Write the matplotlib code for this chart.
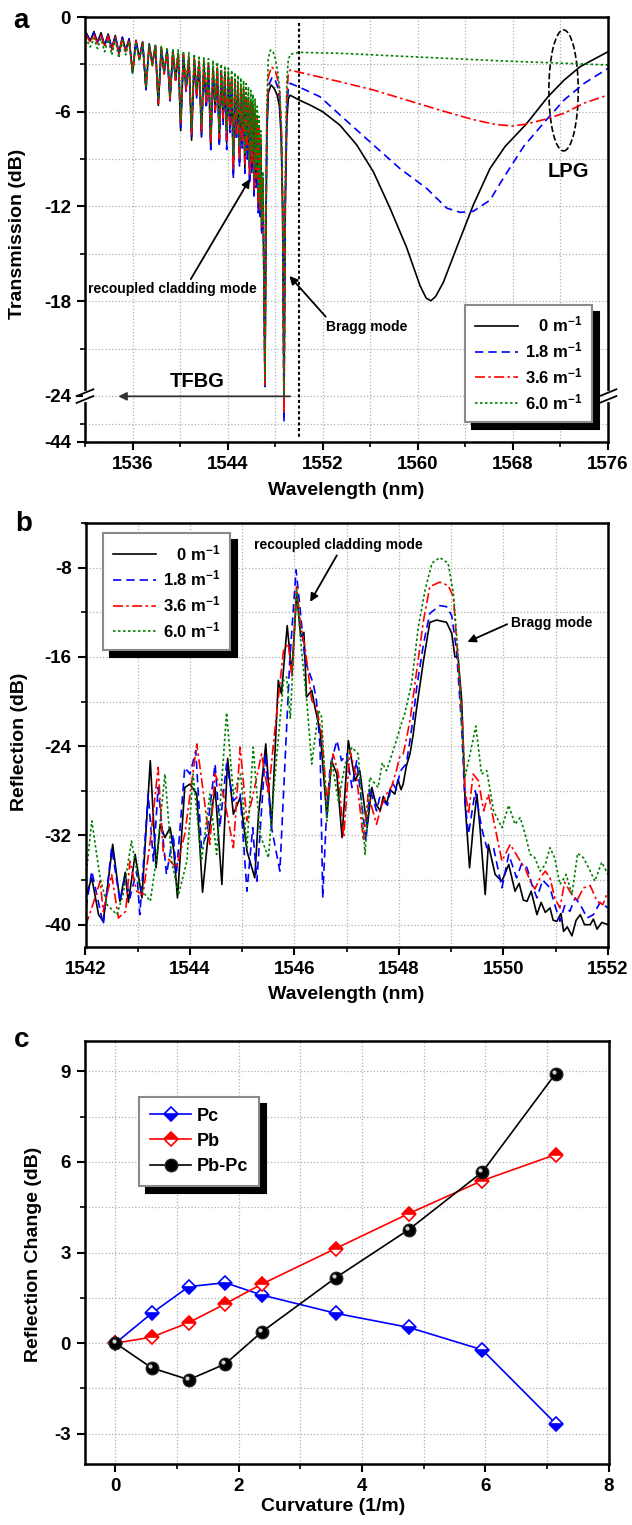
import numpy as np
import matplotlib
matplotlib.use('Agg')
import matplotlib.pyplot as plt
from matplotlib.patches import Ellipse
from matplotlib.ticker import MultipleLocator, FixedLocator
from matplotlib.transforms import offset_copy

plt.rcParams['font.family'] = ['Liberation Sans', 'DejaVu Sans']
plt.rcParams['font.weight'] = 'bold'
plt.rcParams['axes.labelweight'] = 'bold'
plt.rcParams['axes.unicode_minus'] = False
plt.rcParams['mathtext.fontset'] = 'custom'
plt.rcParams['mathtext.rm'] = 'Liberation Sans:bold'
plt.rcParams['mathtext.it'] = 'Liberation Sans:bold'
plt.rcParams['mathtext.bf'] = 'Liberation Sans:bold'
plt.rcParams['mathtext.default'] = 'rm'

labels = ['   0 m$^{-1}$', '1.8 m$^{-1}$', '3.6 m$^{-1}$', '6.0 m$^{-1}$']

# ---------------- panel a : transmission ----------------
# TFBG cladding-mode comb (shared dip / top wavelengths)
comb_dip_wl = [1532.45, 1533.05, 1533.65, 1534.25, 1534.85, 1535.42, 1536.0, 1536.57, 1537.13, 1537.66,
               1538.17, 1538.66, 1539.15, 1539.62, 1540.05, 1540.5, 1540.97, 1541.4, 1541.8, 1542.2,
               1542.58, 1542.95, 1543.3, 1543.62, 1543.92, 1544.2, 1544.48, 1544.74, 1545.0, 1545.22,
               1545.45, 1545.65, 1545.85, 1546.04, 1546.22, 1546.4, 1546.58, 1546.72, 1546.86]
comb_top_wl = [1532.0, 1532.75, 1533.35, 1533.95, 1534.55, 1535.14, 1535.71, 1536.29, 1536.85, 1537.4,
               1537.92, 1538.42, 1538.91, 1539.39, 1539.84, 1540.28, 1540.74, 1541.19, 1541.6, 1542.0,
               1542.39, 1542.77, 1543.13, 1543.46, 1543.77, 1544.06, 1544.34, 1544.61, 1544.87, 1545.11,
               1545.34, 1545.55, 1545.75, 1545.95, 1546.13, 1546.31, 1546.49, 1546.65, 1546.79, 1546.97]

top_0 = [-0.85, -0.92, -1.0, -1.08, -1.17, -1.27, -1.37, -1.47, -1.58, -1.7,
         -1.82, -1.95, -2.07, -2.18, -2.3, -2.42, -2.55, -2.68, -2.8, -2.92,
         -3.05, -3.18, -3.32, -3.47, -3.62, -3.78, -3.95, -4.15, -4.4, -4.62,
         -4.85, -5.08, -5.33, -5.6, -5.9, -6.25, -6.7, -7.3, -8.1, -10.5]
top_18 = [-0.95, -1.0, -1.05, -1.12, -1.2, -1.3, -1.4, -1.5, -1.62, -1.74,
          -1.86, -1.98, -2.1, -2.22, -2.35, -2.48, -2.6, -2.74, -2.87, -3.0,
          -3.13, -3.27, -3.42, -3.57, -3.73, -3.9, -4.08, -4.28, -4.5, -4.72,
          -4.95, -5.18, -5.43, -5.7, -6.0, -6.35, -6.8, -7.4, -8.2, -10.8]
top_36 = [-1.05, -1.1, -1.15, -1.2, -1.27, -1.35, -1.43, -1.52, -1.62, -1.72,
          -1.83, -1.93, -2.03, -2.13, -2.24, -2.35, -2.46, -2.58, -2.7, -2.82,
          -2.94, -3.06, -3.19, -3.33, -3.47, -3.62, -3.78, -3.96, -4.16, -4.36,
          -4.57, -4.78, -5.0, -5.25, -5.52, -5.85, -6.3, -6.9, -7.7, -10.2]
top_60 = [-1.3, -1.33, -1.37, -1.41, -1.45, -1.5, -1.55, -1.6, -1.66, -1.72,
          -1.79, -1.86, -1.93, -2.0, -2.08, -2.16, -2.25, -2.34, -2.44, -2.54,
          -2.64, -2.75, -2.86, -2.98, -3.1, -3.23, -3.37, -3.52, -3.68, -3.85,
          -4.03, -4.22, -4.42, -4.65, -4.9, -5.2, -5.65, -6.3, -7.2, -9.8]

dip_0 = [-1.5, -1.6, -1.8, -2.0, -2.3, -2.1, -3.5, -2.6, -4.6, -3.0,
         -5.6, -3.6, -5.3, -4.0, -7.2, -4.6, -7.8, -5.0, -7.5, -5.6,
         -8.3, -6.0, -8.0, -6.6, -8.0, -7.0, -10.0, -7.6, -9.2, -8.0,
         -9.6, -8.6, -10.3, -9.6, -11.2, -10.5, -12.1, -12.5, -13.5]
dip_18 = [-1.5, -1.6, -1.8, -2.0, -2.3, -2.1, -3.5, -2.6, -4.6, -3.0,
          -5.5, -3.6, -5.3, -4.0, -7.0, -4.7, -7.6, -5.2, -7.6, -5.8,
          -8.4, -6.2, -8.2, -6.8, -8.4, -7.3, -10.2, -7.8, -9.5, -8.3,
          -9.9, -9.0, -10.6, -9.9, -11.5, -10.8, -12.4, -12.8, -13.8]
dip_36 = [-1.6, -1.7, -1.9, -2.1, -2.4, -2.2, -3.5, -2.7, -4.5, -3.1,
          -5.5, -3.6, -5.2, -4.0, -6.8, -4.6, -7.4, -5.0, -7.3, -5.5,
          -8.0, -5.9, -7.7, -6.4, -7.8, -6.8, -9.6, -7.4, -9.0, -7.8,
          -9.3, -8.4, -10.0, -9.3, -10.9, -10.2, -11.8, -12.2, -13.3]
dip_60 = [-1.9, -2.0, -2.2, -2.4, -2.6, -2.4, -3.6, -2.8, -4.4, -3.1,
          -5.2, -3.5, -5.0, -3.8, -6.5, -4.3, -7.0, -4.6, -6.8, -5.0,
          -7.4, -5.3, -7.2, -5.7, -7.2, -6.1, -8.8, -6.6, -8.2, -7.0,
          -8.6, -7.6, -9.2, -8.5, -10.2, -9.5, -11.2, -11.8, -13.0]

# cladding dip, Bragg dip and LPG band
tail_wl_0 = [1547.14, 1547.22, 1547.3, 1547.42, 1547.65, 1547.9, 1548.15, 1548.35, 1548.5, 1548.62,
             1548.74, 1548.85, 1548.98, 1549.1, 1549.25, 1550.0, 1551.0, 1552.0, 1553.45, 1554.86,
             1556.26, 1557.66, 1559.06, 1560.18, 1560.7, 1561.1, 1561.5, 1562.15, 1563.27, 1564.67,
             1566.07, 1567.34, 1569.1, 1570.95, 1572.3, 1573.65, 1575.0, 1576.0]
tail_T_0 = [-23.2, -14.0, -7.5, -4.8, -4.3, -4.5, -4.9, -5.6, -7.5, -12.0,
            -24.0, -12.0, -6.5, -5.2, -4.95, -5.25, -5.6, -6.0, -6.85, -8.1,
            -9.8, -12.1, -14.6, -17.0, -17.8, -17.97, -17.7, -16.8, -14.6, -11.9,
            -9.6, -8.2, -6.8, -5.05, -4.0, -3.15, -2.6, -2.2]
tail_wl_18 = [1547.14, 1547.22, 1547.3, 1547.42, 1547.75, 1548.0, 1548.2, 1548.38, 1548.52, 1548.63,
              1548.74, 1548.85, 1548.98, 1549.1, 1549.25, 1550.03, 1551.77, 1553.45, 1556.26, 1558.5,
              1560.74, 1562.43, 1563.55, 1564.67, 1566.07, 1567.2, 1568.9, 1570.6, 1572.3, 1574.0, 1576.0]
tail_T_18 = [-23.4, -13.5, -7.0, -4.4, -3.8, -4.0, -4.4, -5.2, -7.5, -12.0,
             -35.2, -12.0, -6.0, -4.5, -4.2, -4.44, -5.05, -6.2, -8.1, -9.6,
             -10.85, -12.1, -12.37, -12.3, -11.6, -10.2, -8.2, -6.7, -5.26, -4.2, -3.25]
tail_wl_36 = [1547.14, 1547.22, 1547.3, 1547.42, 1547.7, 1548.0, 1548.2, 1548.38, 1548.52, 1548.63,
              1548.74, 1548.85, 1548.98, 1549.1, 1549.25, 1550.03, 1553.45, 1556.26, 1559.06, 1561.87,
              1564.67, 1566.5, 1567.9, 1569.0, 1570.6, 1572.3, 1574.0, 1576.0]
tail_T_36 = [-23.3, -13.0, -6.5, -3.8, -3.15, -3.4, -3.9, -4.8, -7.0, -12.0,
             -31.4, -11.0, -5.0, -3.6, -3.36, -3.5, -4.1, -4.62, -5.26, -5.9,
             -6.5, -6.8, -6.9, -6.8, -6.5, -6.1, -5.45, -4.94]
tail_wl_60 = [1547.14, 1547.22, 1547.3, 1547.42, 1547.6, 1547.8, 1548.0, 1548.2, 1548.38, 1548.52,
              1548.63, 1548.74, 1548.85, 1548.98, 1549.1, 1549.3, 1550.03, 1553.45, 1559.06, 1567.34,
              1572.3, 1576.0]
tail_T_60 = [-23.0, -12.5, -5.5, -2.6, -2.1, -2.15, -2.6, -3.4, -4.6, -7.0,
             -12.0, -24.5, -10.0, -4.0, -2.7, -2.35, -2.24, -2.3, -2.5, -2.79,
             -2.93, -3.04]

# ---------------- panel b : reflection ----------------
wl_b_0 = [1542.0, 1542.12, 1542.25, 1542.34, 1542.52, 1542.66, 1542.76, 1542.82, 1542.95, 1543.08,
          1543.24, 1543.35, 1543.43, 1543.52, 1543.62, 1543.69, 1543.76, 1543.9, 1544.0, 1544.13,
          1544.24, 1544.33, 1544.48, 1544.61, 1544.72, 1544.83, 1544.96, 1545.09, 1545.24, 1545.31,
          1545.45, 1545.56, 1545.69, 1545.75, 1545.86, 1545.95, 1546.04, 1546.12, 1546.18, 1546.23,
          1546.33, 1546.39, 1546.49, 1546.62, 1546.71, 1546.81, 1546.91, 1547.03, 1547.16, 1547.25,
          1547.39, 1547.48, 1547.56, 1547.64, 1547.7, 1547.76, 1547.83, 1547.92, 1547.98, 1548.04,
          1548.08, 1548.14, 1548.21, 1548.27, 1548.34, 1548.47, 1548.59, 1548.72, 1548.91, 1549.01,
          1549.07, 1549.13, 1549.2, 1549.27, 1549.35, 1549.42, 1549.49, 1549.55, 1549.65, 1549.71,
          1549.84, 1549.97, 1550.1, 1550.22, 1550.3, 1550.38, 1550.45, 1550.53, 1550.64, 1550.72,
          1550.8, 1550.89, 1550.95, 1551.02, 1551.1, 1551.15, 1551.22, 1551.31, 1551.39, 1551.47,
          1551.55, 1551.66, 1551.72, 1551.79, 1551.88, 1552.0]
R_b_0 = [-37.6, -35.8, -39.1, -39.7, -32.8, -37.9, -35.3, -38.0, -33.7, -37.6,
         -25.3, -34.9, -31.0, -32.2, -31.3, -33.4, -37.6, -27.7, -27.4, -28.3,
         -37.1, -32.8, -27.7, -36.4, -25.1, -30.1, -28.6, -33.4, -35.8, -30.2,
         -23.8, -31.3, -18.1, -19.3, -13.2, -17.5, -10.3, -14.2, -13.8, -19.6,
         -19.0, -20.5, -22.6, -30.4, -25.3, -26.5, -32.2, -23.5, -27.1, -26.2,
         -31.3, -27.7, -29.2, -29.8, -28.5, -29.2, -27.9, -28.3, -27.0, -27.9,
         -27.4, -25.8, -24.7, -23.0, -20.5, -16.3, -12.9, -12.7, -12.9, -13.9,
         -16.0, -16.0, -19.9, -29.5, -34.9, -31.3, -28.3, -31.3, -37.3, -32.8,
         -35.5, -36.1, -34.6, -37.0, -36.3, -37.8, -37.9, -37.0, -39.1, -38.0,
         -38.9, -38.5, -39.6, -39.7, -39.0, -40.6, -40.2, -41.0, -39.6, -39.1,
         -40.0, -40.0, -39.5, -40.4, -39.8, -40.0]

wl_b_18 = [1542.01, 1542.12, 1542.34, 1542.5, 1542.66, 1542.76, 1542.85, 1542.98, 1543.04, 1543.2,
           1543.3, 1543.39, 1543.55, 1543.68, 1543.74, 1543.9, 1544.0, 1544.11, 1544.22, 1544.32,
           1544.48, 1544.57, 1544.7, 1544.83, 1544.96, 1545.09, 1545.2, 1545.28, 1545.44, 1545.56,
           1545.72, 1545.91, 1546.03, 1546.11, 1546.2, 1546.36, 1546.42, 1546.49, 1546.54, 1546.6,
           1546.68, 1546.81, 1546.9, 1547.0, 1547.1, 1547.19, 1547.37, 1547.44, 1547.57, 1547.63,
           1547.7, 1547.78, 1547.84, 1547.89, 1547.95, 1548.02, 1548.08, 1548.14, 1548.21, 1548.27,
           1548.34, 1548.47, 1548.59, 1548.78, 1548.91, 1549.01, 1549.1, 1549.2, 1549.26, 1549.33,
           1549.46, 1549.58, 1549.68, 1549.81, 1549.97, 1550.1, 1550.25, 1550.35, 1550.45, 1550.55,
           1550.64, 1550.75, 1550.89, 1550.98, 1551.08, 1551.17, 1551.27, 1551.37, 1551.47, 1551.6,
           1551.72, 1551.85, 1552.0]
R_b_18 = [-38.5, -35.2, -40.0, -33.1, -37.9, -35.8, -37.6, -35.2, -39.1, -28.3,
          -34.3, -27.7, -35.5, -31.9, -35.5, -25.9, -26.5, -24.4, -33.1, -31.9,
          -25.6, -31.3, -25.6, -28.9, -28.3, -37.0, -31.3, -36.1, -24.7, -31.3,
          -35.2, -16.3, -8.2, -11.8, -16.3, -18.4, -19.9, -24.1, -37.6, -31.3,
          -25.9, -23.5, -25.3, -24.7, -27.7, -25.3, -32.5, -27.7, -29.8, -28.6,
          -28.9, -29.3, -27.9, -27.4, -27.9, -26.3, -25.9, -25.6, -23.5, -21.5,
          -18.7, -14.8, -12.1, -11.4, -11.5, -12.3, -15.4, -22.3, -28.9, -31.9,
          -28.0, -31.3, -33.1, -33.1, -36.7, -33.7, -35.8, -34.5, -34.9, -36.5,
          -37.6, -36.0, -36.7, -38.2, -39.7, -38.3, -38.8, -37.6, -38.2, -39.4,
          -39.1, -38.0, -38.5]

wl_b_36 = [1542.0, 1542.12, 1542.28, 1542.34, 1542.5, 1542.63, 1542.77, 1542.85, 1542.98, 1543.1,
           1543.24, 1543.39, 1543.49, 1543.62, 1543.74, 1543.9, 1544.13, 1544.26, 1544.38, 1544.48,
           1544.64, 1544.83, 1544.96, 1545.09, 1545.21, 1545.37, 1545.5, 1545.63, 1545.79, 1545.88,
           1545.95, 1546.04, 1546.12, 1546.2, 1546.33, 1546.42, 1546.52, 1546.62, 1546.74, 1546.84,
           1546.94, 1547.06, 1547.19, 1547.32, 1547.41, 1547.57, 1547.66, 1547.76, 1547.86, 1547.95,
           1548.01, 1548.08, 1548.14, 1548.21, 1548.34, 1548.47, 1548.59, 1548.78, 1548.94, 1549.04,
           1549.13, 1549.22, 1549.26, 1549.33, 1549.42, 1549.52, 1549.62, 1549.71, 1549.84, 1549.97,
           1550.13, 1550.32, 1550.42, 1550.51, 1550.6, 1550.7, 1550.8, 1550.89, 1550.98, 1551.08,
           1551.17, 1551.27, 1551.4, 1551.53, 1551.66, 1551.79, 1551.9, 1552.0]
R_b_36 = [-40.1, -38.5, -36.1, -38.8, -35.5, -39.4, -38.8, -34.3, -37.0, -37.3,
          -32.5, -25.9, -33.7, -34.3, -34.9, -31.9, -23.8, -28.3, -32.8, -26.5,
          -28.3, -33.1, -24.1, -30.7, -28.3, -24.7, -28.3, -22.3, -15.4, -14.8,
          -17.8, -9.7, -13.3, -15.1, -19.9, -20.5, -22.9, -28.9, -24.7, -26.5,
          -32.2, -24.4, -26.8, -32.5, -28.3, -31.0, -29.4, -28.3, -27.6, -26.2,
          -25.0, -24.7, -23.4, -21.7, -17.2, -12.7, -9.7, -9.3, -9.6, -10.6,
          -16.3, -22.3, -27.7, -30.1, -26.5, -27.1, -29.8, -28.3, -31.3, -34.3,
          -32.8, -34.3, -35.0, -36.1, -36.8, -35.8, -35.2, -35.8, -37.6, -38.5,
          -36.2, -37.0, -37.9, -36.7, -36.5, -37.9, -38.2, -37.0]

wl_b_60 = [1542.0, 1542.12, 1542.28, 1542.41, 1542.6, 1542.72, 1542.88, 1543.04, 1543.24, 1543.36,
           1543.52, 1543.65, 1543.78, 1543.94, 1544.06, 1544.22, 1544.38, 1544.51, 1544.7, 1544.83,
           1544.97, 1545.09, 1545.21, 1545.34, 1545.5, 1545.63, 1545.79, 1545.85, 1545.92, 1546.04,
           1546.14, 1546.24, 1546.33, 1546.46, 1546.52, 1546.62, 1546.71, 1546.84, 1546.97, 1547.1,
           1547.22, 1547.35, 1547.44, 1547.6, 1547.68, 1547.76, 1547.86, 1547.95, 1548.03, 1548.11,
           1548.24, 1548.37, 1548.5, 1548.63, 1548.78, 1548.94, 1549.04, 1549.13, 1549.2, 1549.26,
           1549.36, 1549.47, 1549.58, 1549.68, 1549.81, 1549.97, 1550.1, 1550.22, 1550.32, 1550.42,
           1550.51, 1550.6, 1550.7, 1550.8, 1550.89, 1550.98, 1551.08, 1551.2, 1551.31, 1551.42,
           1551.53, 1551.64, 1551.75, 1551.88, 1552.0]
R_b_60 = [-36.1, -30.7, -35.8, -38.2, -39.1, -37.3, -32.5, -36.7, -37.9, -34.0,
          -26.5, -34.3, -37.3, -34.3, -26.5, -34.3, -28.3, -33.7, -21.0, -28.3,
          -26.5, -33.1, -24.1, -31.9, -34.0, -26.5, -18.1, -17.8, -21.5, -10.0,
          -15.7, -20.2, -25.6, -20.8, -21.4, -30.7, -25.3, -28.9, -25.6, -24.1,
          -24.7, -33.7, -26.8, -27.7, -25.5, -26.2, -24.8, -23.5, -22.2, -21.1,
          -18.4, -13.3, -10.0, -7.6, -7.1, -7.6, -10.3, -15.7, -21.7, -26.8,
          -24.7, -22.2, -26.5, -26.2, -29.8, -31.3, -29.3, -31.0, -30.4, -32.0,
          -33.7, -34.0, -35.2, -34.6, -33.1, -34.0, -36.4, -35.5, -37.3, -33.6,
          -34.0, -35.0, -36.1, -34.4, -35.5]

# ---------------- panel c : reflection change ----------------
curvature = [0, 0.59, 1.19, 1.78, 2.38, 3.57, 4.76, 5.95, 7.14]
Pc = [0, 0.99, 1.87, 2.0, 1.59, 0.99, 0.52, -0.22, -2.66]
Pb = [0, 0.2, 0.68, 1.3, 1.96, 3.13, 4.29, 5.38, 6.24]
Pb_Pc = [0, -0.82, -1.21, -0.69, 0.38, 2.16, 3.76, 5.66, 8.92]

# ---------------- styles ----------------
colors = ['black', '#0000ff', '#ff0000', '#008000']
dashes = ['-', (0, (5, 3)), (0, (6, 2, 1.5, 2)), (0, (1.5, 1.5))]
grid_kw = dict(color='#b0b0b0', ls=':', lw=0.9)
shadow_kw = {'ox': 5, 'oy': -5, 'color': 'black', 'alpha': 1}


def style_axes(ax):
    for s in ax.spines.values():
        s.set_linewidth(1.8)
    ax.tick_params(which='major', direction='out', length=6, width=1.5, pad=4, labelsize=13.5)
    ax.tick_params(which='minor', direction='out', length=3.5, width=1.2)
    ax.grid(True, which='both', **grid_kw)
    ax.set_axisbelow(True)


def style_legend(leg):
    leg.get_frame().set_edgecolor('#8a8a8a')
    leg.get_frame().set_linewidth(1.5)


def comb_curve(tops, dips, tail_wl, tail_t):
    x, y = [], []
    for i in range(len(comb_dip_wl)):
        x += [comb_top_wl[i], comb_dip_wl[i]]
        y += [tops[i], dips[i]]
    x.append(comb_top_wl[-1])
    y.append(tops[-1])
    return x + tail_wl, y + tail_t


fig = plt.figure(figsize=(6.32, 15.25), dpi=100)
ax_a = fig.add_axes([85 / 632, 1 - 442 / 1525, 523 / 632, 425 / 1525])
ax_b = fig.add_axes([85.5 / 632, 1 - 947 / 1525, 522.5 / 632, 424 / 1525])
ax_c = fig.add_axes([84.6 / 632, 1 - 1464 / 1525, 524 / 632, 423 / 1525])

# ---- a ----
k_low = 0.1457


def fwd(y):
    y = np.asarray(y, dtype=float)
    return np.where(y >= -24, y, -24 + (y + 24) * k_low)


def inv(u):
    u = np.asarray(u, dtype=float)
    return np.where(u >= -24, u, -24 + (u + 24) / k_low)


ax_a.set_yscale('function', functions=(fwd, inv))
series_a = [(top_0, dip_0, tail_wl_0, tail_T_0), (top_18, dip_18, tail_wl_18, tail_T_18),
            (top_36, dip_36, tail_wl_36, tail_T_36), (top_60, dip_60, tail_wl_60, tail_T_60)]
for (tp, dp, twl, tt), c, d, lab in zip(series_a, colors, dashes, labels):
    x, y = comb_curve(tp, dp, twl, tt)
    ax_a.plot(x, y, color=c, ls=d, lw=1.2, label=lab)

ax_a.plot([1550, 1550], [-0.4, -42.3], color='black', ls=(0, (1.5, 1.2)), lw=1.5)
ax_a.set_xlim(1532, 1576)
ax_a.set_ylim(-44, 0)
ax_a.xaxis.set_major_locator(FixedLocator([1536, 1544, 1552, 1560, 1568, 1576]))
ax_a.xaxis.set_minor_locator(MultipleLocator(4))
ax_a.yaxis.set_major_locator(FixedLocator([0, -6, -12, -18, -24, -44]))
ax_a.yaxis.set_minor_locator(FixedLocator([-3, -9, -15, -21, -36]))
ax_a.yaxis.set_major_formatter(plt.FuncFormatter(lambda v, p: '%d' % round(v)))
style_axes(ax_a)

arrow_kw = dict(arrowstyle='-|>', color='black', lw=1.3, mutation_scale=12, shrinkA=0, shrinkB=0)
ax_a.text(1532.25, -17.2, 'recoupled cladding mode', fontsize=10, va='center', ha='left')
ax_a.annotate('', xy=(1545.87, -10.26), xytext=(1540.9, -16.6), arrowprops=arrow_kw)
ax_a.text(1552.25, -19.6, 'Bragg mode', fontsize=10, va='center', ha='left')
ax_a.annotate('', xy=(1549.2, -16.4), xytext=(1552.25, -18.98), arrowprops=arrow_kw)
ax_a.text(1541.4, -23.1, 'TFBG', fontsize=14.5, ha='center', va='center')
ax_a.annotate('', xy=(1534.8, -24.15), xytext=(1549.25, -24.15),
              arrowprops=dict(arrowstyle='-|>', color='#333333', lw=1.3, mutation_scale=12,
                              shrinkA=0, shrinkB=0))
ax_a.text(1572.7, -9.8, 'LPG', fontsize=14.5, ha='center', va='center')
ax_a.add_patch(Ellipse((1572.26, -4.65), 2.47, 7.66, fill=False, ls='--', lw=1.2, ec='black'))

# axis break marks
yb = 0.108
for xb in (0.0, 1.0):
    ax_a.plot([xb, xb], [yb - 0.008, yb + 0.008], color='white', lw=3, transform=ax_a.transAxes,
              clip_on=False, zorder=6)
    for dy in (-0.008, 0.008):
        ax_a.plot([xb - 0.016, xb + 0.016], [yb + dy - 0.008, yb + dy + 0.008], color='black', lw=1.3,
                  transform=ax_a.transAxes, clip_on=False, zorder=7)

leg = ax_a.legend(loc='lower right', bbox_to_anchor=(0.970, 0.047), fontsize=12, handlelength=2.6,
                  handletextpad=0.4, labelspacing=0.35, borderpad=0.6, borderaxespad=0,
                  fancybox=False, framealpha=1, shadow=shadow_kw)
style_legend(leg)
ax_a.set_xlabel('Wavelength (nm)', fontsize=14)
ax_a.set_ylabel('Transmission (dB)', fontsize=14)
ax_a.xaxis.set_label_coords(0.499, -0.094)
ax_a.yaxis.set_label_coords(-0.113, 0.49)

# ---- b ----
series_b = [(wl_b_0, R_b_0), (wl_b_18, R_b_18), (wl_b_36, R_b_36), (wl_b_60, R_b_60)]
for (x, y), c, d, lab in zip(series_b, colors, dashes, labels):
    ax_b.plot(x, y, color=c, ls=d, lw=1.2, label=lab)
ax_b.set_xlim(1542, 1552)
ax_b.set_ylim(-42, -4)
ax_b.xaxis.set_major_locator(MultipleLocator(2))
ax_b.xaxis.set_minor_locator(MultipleLocator(1))
ax_b.yaxis.set_major_locator(FixedLocator([-40, -32, -24, -16, -8]))
ax_b.yaxis.set_minor_locator(FixedLocator([-36, -28, -20, -12, -4]))
style_axes(ax_b)
ax_b.text(1546.84, -5.98, 'recoupled cladding mode', fontsize=10, ha='center', va='center')
ax_b.annotate('', xy=(1546.30, -11.07), xytext=(1546.81, -6.9), arrowprops=arrow_kw)
ax_b.text(1550.14, -13.0, 'Bragg mode', fontsize=10, ha='left', va='center')
ax_b.annotate('', xy=(1549.31, -14.66), xytext=(1550.07, -13.07), arrowprops=arrow_kw)
leg = ax_b.legend(loc='upper left', bbox_to_anchor=(0.033, 0.976), fontsize=12, handlelength=2.6,
                  handletextpad=0.4, labelspacing=0.35, borderpad=0.6, borderaxespad=0,
                  fancybox=False, framealpha=1, shadow=shadow_kw)
style_legend(leg)
ax_b.set_xlabel('Wavelength (nm)', fontsize=14)
ax_b.set_ylabel('Reflection (dB)', fontsize=14)
ax_b.xaxis.set_label_coords(0.499, -0.092)
ax_b.yaxis.set_label_coords(-0.110, 0.483)

# ---- c ----
ax_c.plot(curvature, Pc, color='#0000ff', lw=1.2, marker='D', ms=7, fillstyle='bottom',
          mfc='#0000ff', mfcalt='white', mec='#0000ff', mew=1.2, label='Pc')
ax_c.plot(curvature, Pb, color='#ff0000', lw=1.2, marker='D', ms=7, fillstyle='top',
          mfc='#ff0000', mfcalt='white', mec='#ff0000', mew=1.2, label='Pb')
ax_c.plot(curvature, Pb_Pc, color='black', lw=1.2, marker='o', ms=9, mfc='black', mec='#222222',
          label='Pb-Pc')
hl = offset_copy(ax_c.transData, fig=fig, x=-1.3, y=1.3, units='points')
ax_c.plot(curvature, Pb_Pc, ls='none', marker='o', ms=3, mfc='#d0d0d0', mec='none', transform=hl)
ax_c.set_xlim(-0.5, 8)
ax_c.set_ylim(-4, 10)
ax_c.xaxis.set_major_locator(MultipleLocator(2))
ax_c.xaxis.set_minor_locator(MultipleLocator(1))
ax_c.yaxis.set_major_locator(FixedLocator([-3, 0, 3, 6, 9]))
ax_c.yaxis.set_minor_locator(FixedLocator([-1.5, 1.5, 4.5, 7.5]))
style_axes(ax_c)
leg = ax_c.legend(loc='upper left', bbox_to_anchor=(0.104, 0.868), fontsize=13, handlelength=2.3,
                  handletextpad=0.3, labelspacing=0.45, borderpad=0.6, borderaxespad=0,
                  numpoints=1, fancybox=False, framealpha=1, shadow=shadow_kw)
style_legend(leg)
ax_c.set_xlabel('Curvature (1/m)', fontsize=14)
ax_c.set_ylabel('Reflection Change (dB)', fontsize=14)
ax_c.xaxis.set_label_coords(0.475, -0.080)
ax_c.yaxis.set_label_coords(-0.081, 0.496)

fig.text(21 / 632, 1 - 20.5 / 1525, 'a', fontsize=20, ha='center', va='center')
fig.text(23.5 / 632, 1 - 524 / 1525, 'b', fontsize=20, ha='center', va='center')
fig.text(22 / 632, 1 - 1040 / 1525, 'c', fontsize=20, ha='center', va='center')

fig.savefig('out.png', dpi=100)
